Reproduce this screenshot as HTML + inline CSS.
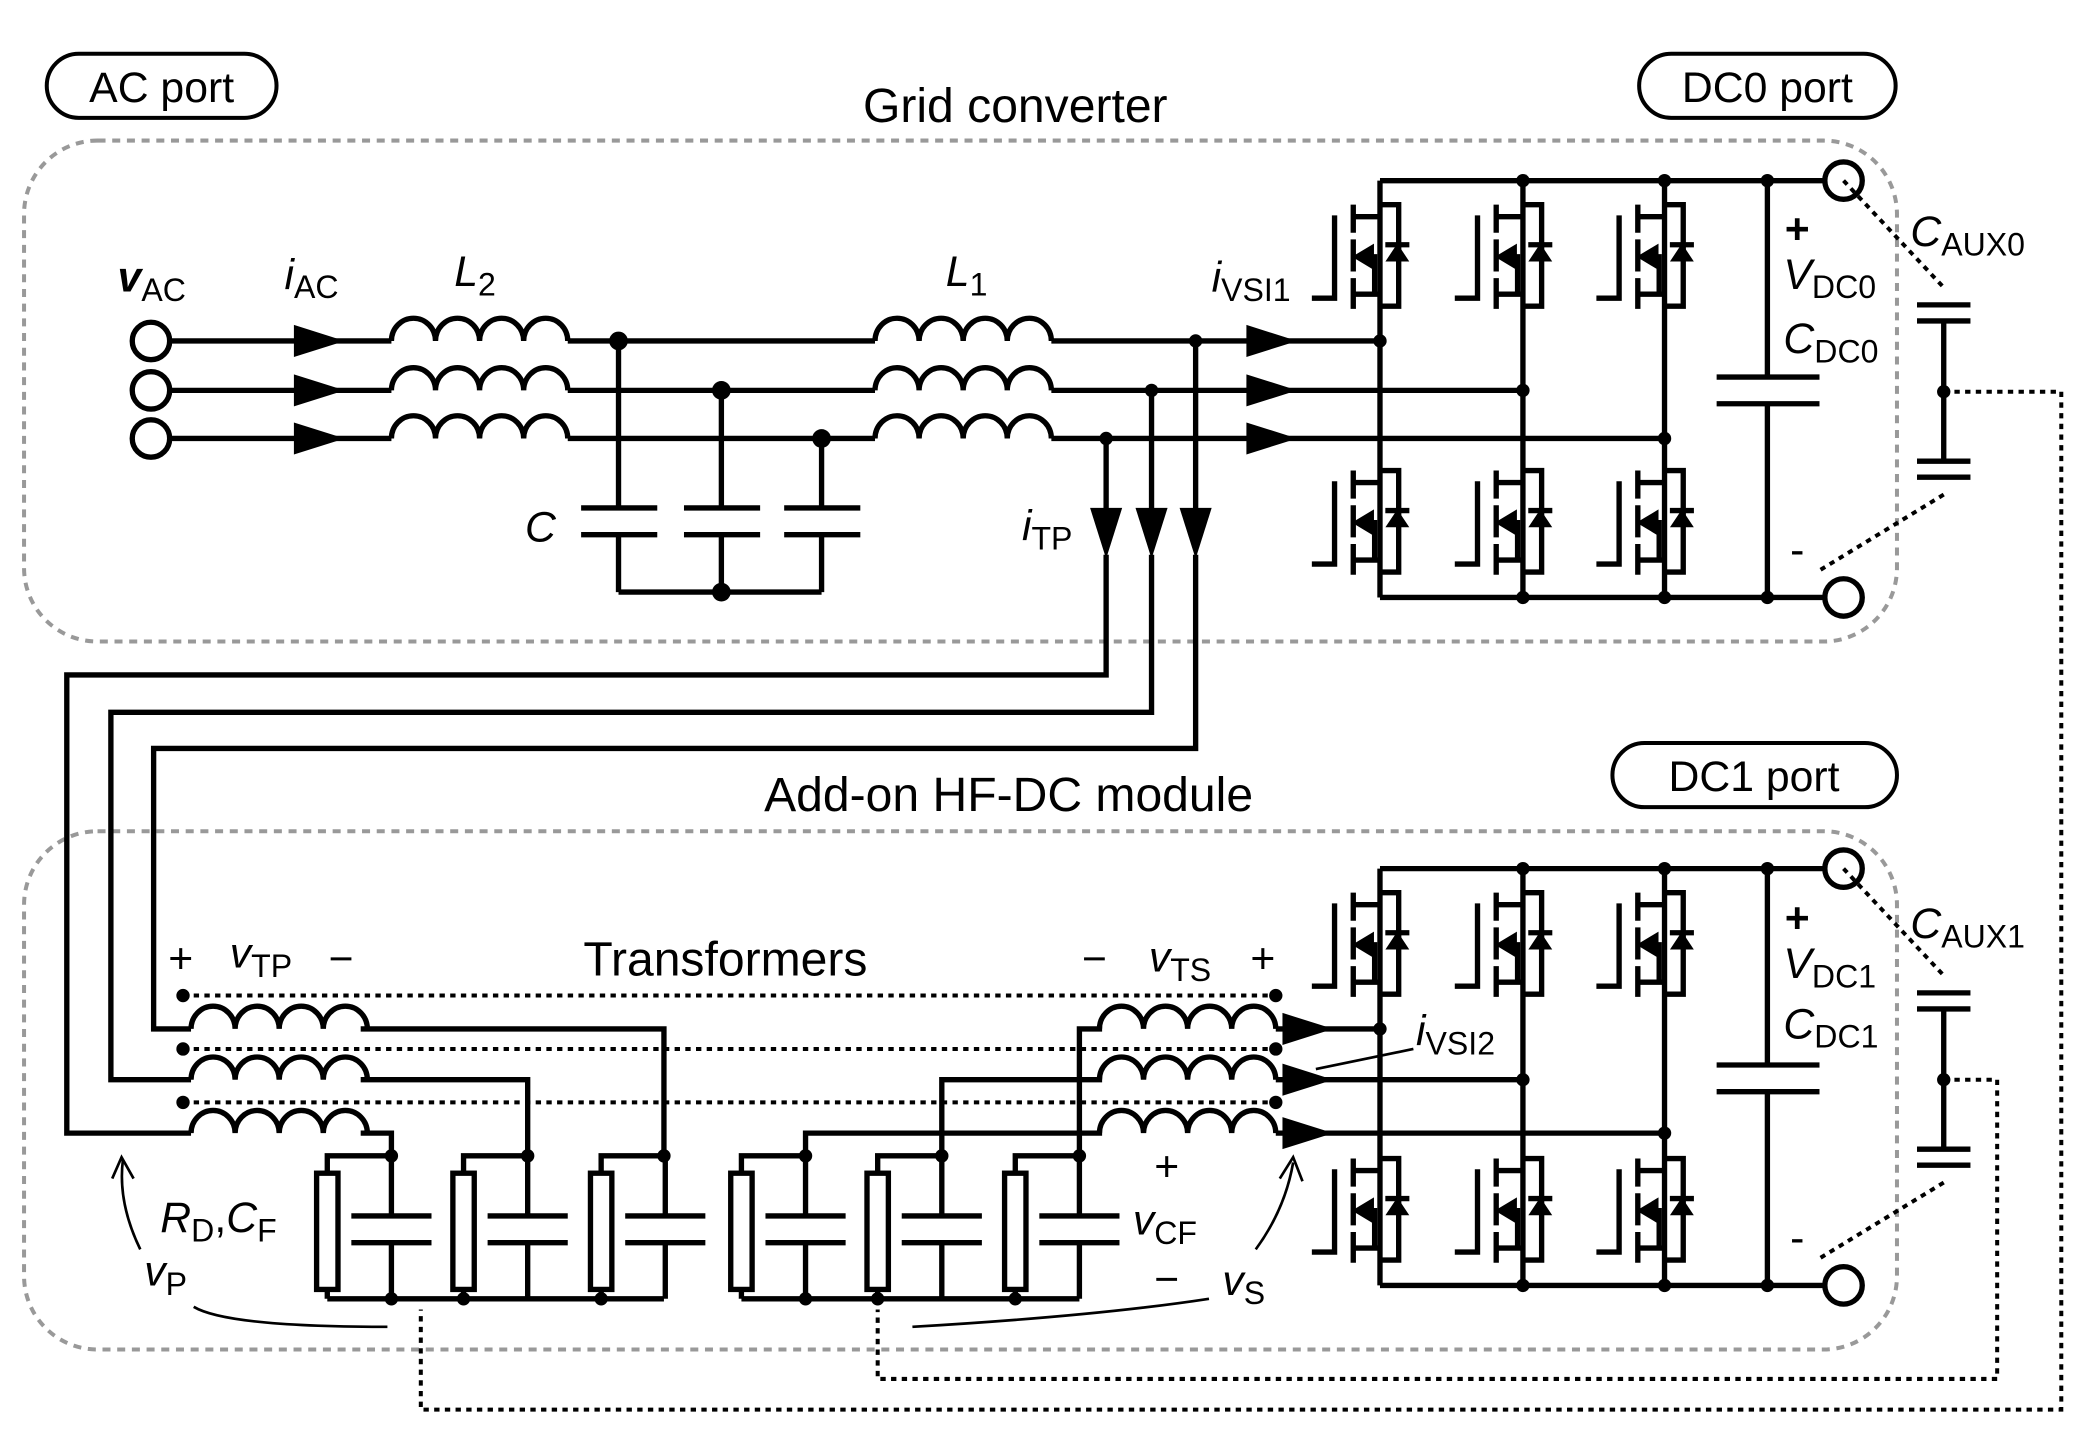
<!DOCTYPE html>
<html><head><meta charset="utf-8"><style>
html,body{margin:0;padding:0;background:#fff;}
svg{display:block;}
text{font-family:"Liberation Sans",sans-serif;fill:#000;}
.v{font-style:italic;}
.s{font-size:24px;font-style:normal;font-weight:normal;}
</style></head><body>
<svg width="2084" height="1430" viewBox="0 0 1560 1070" xmlns="http://www.w3.org/2000/svg">
<defs>
<g id="m" fill="none" stroke="#000" stroke-width="4">
<path d="M0,0 H14 V76 H0"/>
<path d="M-20,0 V21 M-20,26 V50 M-20,55 V78"/>
<path d="M-20,9 H0 M-20,67 H0 M-12,39 H-4 V67"/>
<path d="M-34,8 V70 H-51"/>
<path d="M4,30 H22" />
<polygon points="5,42 21,42 13,30" fill="#000" stroke-width="1"/>
<polygon points="-20,39 -5,30 -5,48" fill="#000" stroke-width="1"/>
</g>
<path id="ind" d="M0,0 a16.5,17 0 0 1 33,0 a16.5,17 0 0 1 33,0 a16.5,17 0 0 1 33,0 a16.5,17 0 0 1 33,0" fill="none" stroke="#000" stroke-width="4"/>
<polygon id="ar" points="0,-12 38,0 0,12" fill="#000"/>
<polygon id="ad" points="-12,0 12,0 0,38" fill="#000"/>
<g id="rc" fill="none" stroke="#000" stroke-width="4">
<path d="M0,13 V0 H48"/>
<rect x="-8" y="13" width="16" height="87" fill="#fff"/>
<path d="M0,100 V107 M48,0 V45 M18,45 H78 M18,65 H78 M48,65 V107"/>
</g>
</defs>

<rect x="18" y="105" width="1402" height="375" rx="55" fill="none" stroke="#999" stroke-width="3" stroke-dasharray="6,5"/>
<rect x="18" y="622" width="1402" height="388" rx="55" fill="none" stroke="#999" stroke-width="3" stroke-dasharray="6,5"/>

<rect x="35" y="40" width="172" height="48" rx="24" fill="#fff" stroke="#000" stroke-width="3"/>
<text x="121" y="76" font-size="32" text-anchor="middle">AC port</text>
<rect x="1227" y="40" width="192" height="48" rx="24" fill="#fff" stroke="#000" stroke-width="3"/>
<text x="1323" y="76" font-size="32" text-anchor="middle">DC0 port</text>
<rect x="1207" y="556" width="213" height="48" rx="24" fill="#fff" stroke="#000" stroke-width="3"/>
<text x="1313" y="592" font-size="32" text-anchor="middle">DC1 port</text>
<text x="760" y="91" font-size="36" text-anchor="middle">Grid converter</text>
<text x="755" y="607" font-size="36" text-anchor="middle">Add-on HF-DC module</text>

<g fill="none" stroke="#000" stroke-width="4">
<path d="M127,255 H293 M425,255 H655 M787,255 H1033"/>
<path d="M127,292 H293 M425,292 H655 M787,292 H1140"/>
<path d="M127,328 H293 M425,328 H655 M787,328 H1246"/>
<path d="M463,255 V380 M435,380 H492 M435,400 H492 M463,400 V443"/>
<path d="M540,292 V380 M512,380 H569 M512,400 H569 M540,400 V443"/>
<path d="M615,328 V380 M587,380 H644 M587,400 H644 M615,400 V443"/>
<path d="M463,443 H615"/>
<path d="M895,255 V385 M895,415 V560 H115 V770 H143"/>
<path d="M862,292 V385 M862,415 V533 H83 V808 H143"/>
<path d="M828,328 V385 M828,415 V505 H50 V848 H143"/>
<path d="M1033,135 V447 M1140,135 V447 M1246,135 V447 M1033,135 H1366 M1033,447 H1366"/>
<path d="M1323,135 V282 M1285,282 H1362 M1285,302 H1362 M1323,302 V447"/>
<path d="M1033,650 V962 M1140,650 V962 M1246,650 V962 M1033,650 H1366 M1033,962 H1366"/>
<path d="M1323,650 V797 M1285,797 H1362 M1285,817 H1362 M1323,817 V962"/>
<path d="M955,770 H1033 M955,808 H1140 M955,848 H1246"/>
<path d="M270,770 H497 V865 M270,808 H395 V865 M270,848 H293 V865"/>
<path d="M825,770 H808 V865 M825,808 H705 V865 M825,848 H603 V865"/>
<path d="M245,972 H497 M555,972 H808"/>
<path d="M1435,228 H1475 M1435,240 H1475 M1455,240 V345 M1435,345 H1475 M1435,357 H1475"/>
<path d="M1435,743 H1475 M1435,755 H1475 M1455,755 V860 M1435,860 H1475 M1435,872 H1475"/>
</g>
<circle cx="113" cy="255" r="14" fill="#fff" stroke="#000" stroke-width="4"/>
<circle cx="113" cy="292" r="14" fill="#fff" stroke="#000" stroke-width="4"/>
<circle cx="113" cy="328" r="14" fill="#fff" stroke="#000" stroke-width="4"/>
<circle cx="1380" cy="135" r="14" fill="#fff" stroke="#000" stroke-width="4"/>
<circle cx="1380" cy="447" r="14" fill="#fff" stroke="#000" stroke-width="4"/>
<circle cx="1380" cy="650" r="14" fill="#fff" stroke="#000" stroke-width="4"/>
<circle cx="1380" cy="962" r="14" fill="#fff" stroke="#000" stroke-width="4"/>

<use href="#ind" x="293" y="255"/><use href="#ind" x="293" y="292"/><use href="#ind" x="293" y="328"/>
<use href="#ind" x="655" y="255"/><use href="#ind" x="655" y="292"/><use href="#ind" x="655" y="328"/>
<use href="#ind" x="143" y="770"/><use href="#ind" x="143" y="808"/><use href="#ind" x="143" y="848"/>
<use href="#ind" x="823" y="770"/><use href="#ind" x="823" y="808"/><use href="#ind" x="823" y="848"/>

<use href="#ar" x="220" y="255"/><use href="#ar" x="220" y="292"/><use href="#ar" x="220" y="328"/>
<use href="#ar" x="933" y="255"/><use href="#ar" x="933" y="292"/><use href="#ar" x="933" y="328"/>
<use href="#ar" x="960" y="770"/><use href="#ar" x="960" y="808"/><use href="#ar" x="960" y="848"/>
<use href="#ad" x="828" y="380"/><use href="#ad" x="862" y="380"/><use href="#ad" x="895" y="380"/>

<use href="#m" x="1033" y="153"/><use href="#m" x="1140" y="153"/><use href="#m" x="1246" y="153"/>
<use href="#m" x="1033" y="352"/><use href="#m" x="1140" y="352"/><use href="#m" x="1246" y="352"/>
<use href="#m" x="1033" y="668"/><use href="#m" x="1140" y="668"/><use href="#m" x="1246" y="668"/>
<use href="#m" x="1033" y="867"/><use href="#m" x="1140" y="867"/><use href="#m" x="1246" y="867"/>

<use href="#rc" x="245" y="865"/><use href="#rc" x="347" y="865"/><use href="#rc" x="450" y="865"/>
<use href="#rc" x="555" y="865"/><use href="#rc" x="657" y="865"/><use href="#rc" x="760" y="865"/>

<g fill="#000">
<circle cx="463" cy="255" r="7"/><circle cx="540" cy="292" r="7"/><circle cx="615" cy="328" r="7"/><circle cx="540" cy="443" r="7"/>
<circle cx="895" cy="255" r="5"/><circle cx="862" cy="292" r="5"/><circle cx="828" cy="328" r="5"/>
<circle cx="1033" cy="255" r="5"/><circle cx="1140" cy="292" r="5"/><circle cx="1246" cy="328" r="5"/>
<circle cx="1140" cy="135" r="5"/><circle cx="1246" cy="135" r="5"/><circle cx="1323" cy="135" r="5"/>
<circle cx="1140" cy="447" r="5"/><circle cx="1246" cy="447" r="5"/><circle cx="1323" cy="447" r="5"/>
<circle cx="1033" cy="770" r="5"/><circle cx="1140" cy="808" r="5"/><circle cx="1246" cy="848" r="5"/>
<circle cx="1140" cy="650" r="5"/><circle cx="1246" cy="650" r="5"/><circle cx="1323" cy="650" r="5"/>
<circle cx="1140" cy="962" r="5"/><circle cx="1246" cy="962" r="5"/><circle cx="1323" cy="962" r="5"/>
<circle cx="293" cy="865" r="5"/><circle cx="395" cy="865" r="5"/><circle cx="497" cy="865" r="5"/>
<circle cx="603" cy="865" r="5"/><circle cx="705" cy="865" r="5"/><circle cx="808" cy="865" r="5"/>
<circle cx="293" cy="972" r="5"/><circle cx="347" cy="972" r="5"/><circle cx="450" cy="972" r="5"/>
<circle cx="603" cy="972" r="5"/><circle cx="657" cy="972" r="5"/><circle cx="760" cy="972" r="5"/>
<circle cx="137" cy="745" r="5"/><circle cx="137" cy="785" r="5"/><circle cx="137" cy="825" r="5"/>
<circle cx="955" cy="745" r="5"/><circle cx="955" cy="785" r="5"/><circle cx="955" cy="825" r="5"/>
<circle cx="1455" cy="293" r="5"/><circle cx="1455" cy="808" r="5"/>
</g>

<g fill="none" stroke="#000" stroke-width="3" stroke-dasharray="4,4">
<path d="M137,745 H955 M137,785 H955 M137,825 H955"/>
<path d="M1380,135 L1455,215 M1455,370 L1360,428"/>
<path d="M1380,650 L1455,730 M1455,885 L1360,943"/>
<path d="M1455,293 H1543 V1055 H315 V980"/>
<path d="M1455,808 H1495 V1032 H657 V980"/>
<path d="M1058,785 L985,800" stroke-dasharray="none" stroke-width="2"/>
</g>

<g fill="none" stroke="#000" stroke-width="2">
<path d="M105,935 Q88,900 92,868"/>
<path d="M84,882 L91,866 L100,882"/>
<path d="M145,978 Q170,993 290,993"/>
<path d="M940,935 Q962,905 968,870"/>
<path d="M958,882 L968,866 L975,884"/>
<path d="M683,993 Q820,985 905,972"/>
</g>

<g font-size="32">
<text x="88" y="218" class="v" font-weight="bold">v<tspan class="s" dy="7">AC</tspan></text>
<text x="213" y="216" class="v">i<tspan class="s" dy="7">AC</tspan></text>
<text x="340" y="214" class="v">L<tspan class="s" dy="7">2</tspan></text>
<text x="708" y="214" class="v">L<tspan class="s" dy="7">1</tspan></text>
<text x="907" y="218" class="v">i<tspan class="s" dy="7">VSI1</tspan></text>
<text x="393" y="405" class="v">C</text>
<text x="765" y="404" class="v">i<tspan class="s" dy="7">TP</tspan></text>
<text x="1336" y="182" font-weight="bold">+</text>
<text x="1335" y="216" class="v">V<tspan class="s" dy="7">DC0</tspan></text>
<text x="1335" y="264" class="v">C<tspan class="s" dy="7">DC0</tspan></text>
<text x="1430" y="184" class="v">C<tspan class="s" dy="7">AUX0</tspan></text>
<text x="1340" y="422">-</text>
<text x="1336" y="698" font-weight="bold">+</text>
<text x="1335" y="732" class="v">V<tspan class="s" dy="7">DC1</tspan></text>
<text x="1335" y="777" class="v">C<tspan class="s" dy="7">DC1</tspan></text>
<text x="1430" y="702" class="v">C<tspan class="s" dy="7">AUX1</tspan></text>
<text x="1340" y="937">-</text>
<text x="126" y="728">+</text>
<text x="172" y="724" class="v">v<tspan class="s" dy="7">TP</tspan></text>
<text x="246" y="728">−</text>
<text x="543" y="730" font-size="36" text-anchor="middle">Transformers</text>
<text x="810" y="728">−</text>
<text x="860" y="727" class="v">v<tspan class="s" dy="7">TS</tspan></text>
<text x="936" y="728">+</text>
<text x="1060" y="782" class="v">i<tspan class="s" dy="7">VSI2</tspan></text>
<text x="864" y="884">+</text>
<text x="848" y="924" class="v">v<tspan class="s" dy="7">CF</tspan></text>
<text x="864" y="968">−</text>
<text x="120" y="922" class="v">R<tspan class="s" dy="7">D</tspan><tspan font-style="normal" dy="-7">,</tspan>C<tspan class="s" dy="7">F</tspan></text>
<text x="108" y="962" class="v">v<tspan class="s" dy="7">P</tspan></text>
<text x="915" y="969" class="v">v<tspan class="s" dy="7">S</tspan></text>
</g>
</svg>
</body></html>
